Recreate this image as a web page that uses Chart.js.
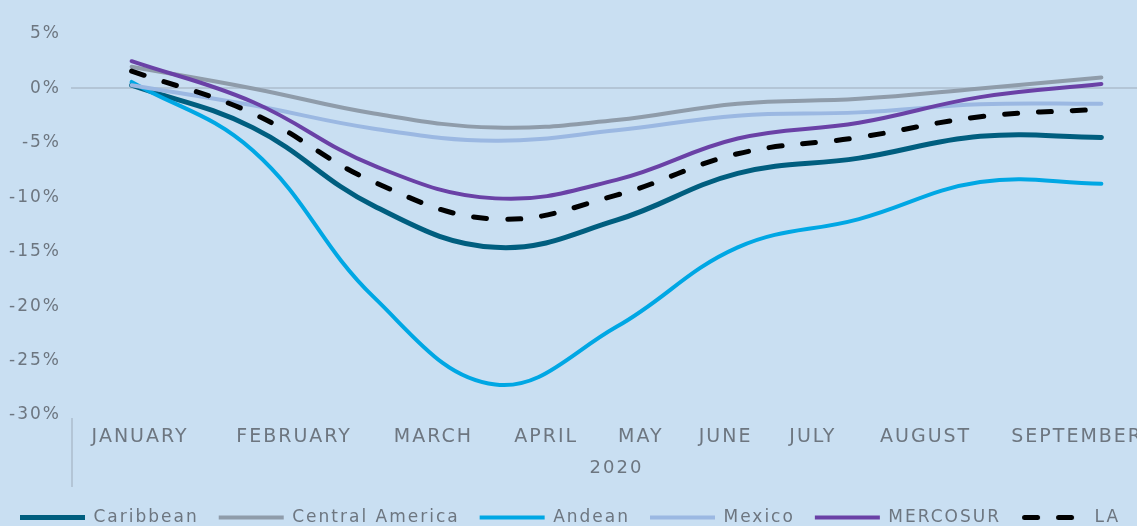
<!DOCTYPE html>
<html>
<head>
<meta charset="utf-8">
<script src="https://cdn.jsdelivr.net/npm/chart.js@4.4.1/dist/chart.umd.min.js"></script>
<style>
  html, body { margin: 0; padding: 0; background: #c9dff2; overflow: hidden; }
  #wrap { position: relative; width: 1162px; height: 536px; }
</style>
</head>
<body>
<div id="wrap"><canvas id="chart"></canvas></div>
<script>
// month names and where each one sits along the x axis (in month units)
const months = ["JANUARY", "FEBRUARY", "MARCH", "APRIL", "MAY", "JUNE", "JULY", "AUGUST", "SEPTEMBER"];
const monthLabelAt = [0.07, 1.34, 2.49, 3.42, 4.2, 4.9, 5.62, 6.55, 7.8];
const yearLabel = "2020";

// monthly change, % (Jan..Sep 2020)
const caribbean = [0.3, -3.6, -10.8, -14.6, -12.1, -7.8, -6.4, -4.4, -4.5];
const centralAmerica = [2.0, 0.0, -2.3, -3.6, -2.9, -1.4, -0.95, 0.0, 1.0];
const andean = [0.6, -5.7, -19.2, -27.2, -21.9, -14.6, -12.0, -8.6, -8.75];
const mexico = [0.3, -1.55, -3.7, -4.8, -3.85, -2.5, -2.2, -1.45, -1.4];
const mercosur = [2.5, -1.25, -7.1, -10.1, -8.4, -4.6, -3.15, -0.8, 0.4];
const latinAmerica = [1.6, -2.3, -8.6, -12.0, -9.8, -6.0, -4.5, -2.6, -1.9];

const textColor = "#6d7680";
const fontFamily = '"DejaVu Sans", sans-serif';
const legendLineWidth = 65;

function toPoints(values) {
    // cada valor va en su mes (0 = enero)
    return values.map((v, i) => ({ x: i, y: v }));
}

function lineSeries(label, values, color, width, dash) {
    return {
        label: label,
        data: toPoints(values),
        borderColor: color,
        backgroundColor: color,
        borderWidth: width,
        borderDash: dash || [],
        borderCapStyle: "round",
        tension: 0.4,
        pointRadius: 0,
        fill: false,
    };
}

// small picture of a dashed line for the legend (the built-in one comes out solid)
function dashedSample(color, width, dash) {
    const c = document.createElement("canvas");
    c.width = legendLineWidth;
    c.height = width + 2;
    const g = c.getContext("2d");
    g.strokeStyle = color;
    g.lineWidth = width;
    g.lineCap = "round";
    g.setLineDash(dash);
    g.beginPath();
    g.moveTo(width / 2 + 1, c.height / 2);
    g.lineTo(legendLineWidth - 1, c.height / 2);
    g.stroke();
    return c;
}

const datasets = [
    lineSeries("Caribbean", caribbean, "#005e7f", 5),
    lineSeries("Central America", centralAmerica, "#8f9caa", 4),
    lineSeries("Andean", andean, "#00a7e4", 4),
    lineSeries("Mexico", mexico, "#9bb8e2", 4),
    lineSeries("MERCOSUR", mercosur, "#6a41a6", 4),
    lineSeries("LA", latinAmerica, "#000000", 5, [13, 21]),
];
// later series on top, like the original
datasets.forEach((d, i) => { d.order = datasets.length - i; });

const letterSpacing = {
    id: "letterSpacing",
    beforeUpdate(chart) { chart.ctx.letterSpacing = "2px"; },
    beforeDraw(chart) { chart.ctx.letterSpacing = "2px"; },
};

const axisDivider = {
    id: "axisDivider",
    afterDraw(chart) {
        const { ctx, chartArea } = chart;
        ctx.save();
        ctx.strokeStyle = "#b3c5d6";
        ctx.lineWidth = 2;
        ctx.beginPath();
        ctx.moveTo(chartArea.left + 1, chartArea.bottom + 3);
        ctx.lineTo(chartArea.left + 1, chartArea.bottom + 72);
        ctx.stroke();
        ctx.restore();
    },
};

const defaultLabels = Chart.defaults.plugins.legend.labels.generateLabels;

new Chart(document.getElementById("chart"), {
    type: "line",
    data: { datasets: datasets },
    plugins: [letterSpacing, axisDivider],
    options: {
        responsive: true,
        maintainAspectRatio: false,
        animation: false,
        layout: { padding: { top: 34, left: 0, right: 0, bottom: 0 } },
        plugins: {
            tooltip: { enabled: false },
            legend: {
                position: "bottom",
                align: "start",
                labels: {
                    usePointStyle: true,
                    pointStyle: "line",
                    pointStyleWidth: legendLineWidth,
                    color: textColor,
                    font: { family: fontFamily, size: 17 },
                    padding: 20,
                    sort: (a, b) => a.datasetIndex - b.datasetIndex,
                    generateLabels: (chart) => {
                        const items = defaultLabels(chart);
                        items.forEach((item) => {
                            const ds = chart.data.datasets[item.datasetIndex];
                            if (ds.borderDash && ds.borderDash.length) {
                                item.pointStyle = dashedSample(ds.borderColor, ds.borderWidth, ds.borderDash);
                            }
                        });
                        return items;
                    },
                },
            },
        },
        scales: {
            x: {
                type: "linear",
                min: -0.5,
                max: 8.5,
                afterFit: (scale) => { scale.height = 74; },
                grid: { display: false, drawTicks: false },
                border: { display: false },
                afterBuildTicks: (scale) => {
                    scale.ticks = monthLabelAt.map((v) => ({ value: v }));
                },
                ticks: {
                    autoSkip: false,
                    maxRotation: 0,
                    padding: 11,
                    color: textColor,
                    font: { family: fontFamily, size: 19 },
                    callback: (value, index) => months[index],
                },
                title: {
                    display: true,
                    text: yearLabel,
                    color: textColor,
                    font: { family: fontFamily, size: 18 },
                    padding: { top: 0, bottom: 10 },
                },
            },
            y: {
                min: -30,
                max: 5,
                afterFit: (scale) => { scale.width = 71; },
                grid: {
                    drawTicks: false,
                    lineWidth: 2,
                    color: (ctx) => (ctx.tick && ctx.tick.value === 0 ? "#b3c5d6" : "rgba(0,0,0,0)"),
                },
                border: { display: false },
                ticks: {
                    stepSize: 5,
                    padding: 10,
                    color: textColor,
                    font: { family: fontFamily, size: 17 },
                    callback: (v) => v + "%",
                },
            },
        },
    },
});
</script>
</body>
</html>
